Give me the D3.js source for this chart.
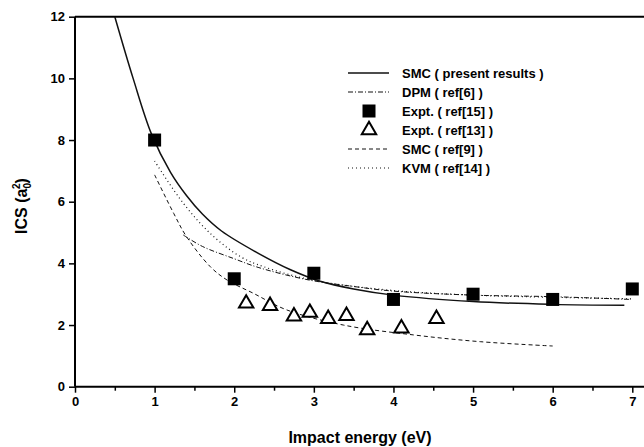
<!DOCTYPE html>
<html>
<head>
<meta charset="utf-8">
<script src="https://cdn.jsdelivr.net/npm/d3@7"></script>
<style>
  body { margin: 0; background: #fff; }
  svg text { font-family: "Liberation Sans", Arial, sans-serif; font-weight: bold; fill: #000; }
</style>
</head>
<body>
<svg id="chart" width="644" height="447"></svg>
<script>
// SMC ( present results )
const smcPresent = [[0.5,12],[0.73,10],[0.96,8.2],[1.2,6.95],[1.4,6.2],[1.6,5.6],[1.84,5.05],[2.32,4.3],[2.7,3.8],[3.08,3.42],[3.5,3.17],[4,2.97],[5,2.76],[6,2.67],[6.9,2.64]];
// DPM ( ref[6] )
const dpm = [[1.36,4.92],[1.6,4.55],[2.0,4.15],[2.3,3.87],[2.9,3.48],[3.5,3.25],[4,3.1],[5,2.97],[6,2.92],[6.98,2.83]];
// SMC ( ref[9] )
const smcRef9 = [[1.0,6.87],[1.24,5.62],[1.4,4.87],[1.7,3.89],[1.91,3.46],[2.24,3.03],[2.66,2.49],[3.37,2.0],[4.25,1.68],[5.09,1.46],[6.0,1.32]];
// KVM ( ref[14] )
const kvm = [[1.0,7.32],[1.36,5.95],[1.72,4.92],[2.09,4.2],[2.36,3.9],[3,3.45],[4,3.12],[5,2.97],[6,2.9],[7,2.85]];
// Expt. ( ref[15] )
const exptRef15 = [[1,8.0],[2,3.5],[3,3.68],[4,2.83],[5,3.0],[6,2.83],[7,3.17]];
// Expt. ( ref[13] )
const exptRef13 = [[2.15,2.7],[2.45,2.62],[2.75,2.28],[2.95,2.4],[3.18,2.2],[3.41,2.3],[3.67,1.84],[4.1,1.89],[4.54,2.2]];

const xTicks = [0,1,2,3,4,5,6,7];
const xMinor = [0.5,1.5,2.5,3.5,4.5,5.5,6.5];
const yTicks = [0,2,4,6,8,10,12];

const legendItems = [
  {label: "SMC ( present results )", type: "line", dash: null, w: 1.5},
  {label: "DPM ( ref[6] )", type: "line", dash: "5,2,1,2", w: 1},
  {label: "Expt. ( ref[15] )", type: "square"},
  {label: "Expt. ( ref[13] )", type: "triangle"},
  {label: "SMC ( ref[9] )", type: "line", dash: "4,3", w: 1},
  {label: "KVM ( ref[14] )", type: "line", dash: "1,3", w: 1.2}
];

const svg = d3.select("#chart");
const x = d3.scaleLinear().domain([0, 7]).range([75, 632.3]);
const y = d3.scaleLinear().domain([0, 12]).range([386.7, 16.7]);

// frame: top line and bottom axis run off the right edge
svg.append("line").attr("x1", 75).attr("x2", 650).attr("y1", y(12)).attr("y2", y(12))
  .attr("stroke", "#000").attr("stroke-width", 2);
svg.append("line").attr("x1", 75).attr("x2", 650).attr("y1", y(0)).attr("y2", y(0))
  .attr("stroke", "#000").attr("stroke-width", 2);
svg.append("line").attr("x1", 75).attr("x2", 75).attr("y1", y(12)).attr("y2", y(0))
  .attr("stroke", "#000").attr("stroke-width", 2);

// x axis
const xAxis = d3.axisBottom(x).tickValues(xTicks).tickSize(6).tickPadding(4).tickFormat(d3.format("d"));
const gx = svg.append("g").attr("transform", `translate(0,${y(0)})`).call(xAxis);
gx.select(".domain").remove();
gx.selectAll(".tick line").attr("stroke-width", 1.5);
gx.selectAll(".tick text").style("font-size", "13px").style("font-family", null);
const gxm = svg.append("g").attr("transform", `translate(0,${y(0)})`)
  .call(d3.axisBottom(x).tickValues(xMinor).tickSize(4).tickFormat(""));
gxm.select(".domain").remove();
gxm.selectAll(".tick line").attr("stroke-width", 1.5);

// y axis
const yAxis = d3.axisLeft(y).tickValues(yTicks).tickSize(6).tickPadding(4).tickFormat(d3.format("d"));
const gy = svg.append("g").attr("transform", `translate(75,0)`).call(yAxis);
gy.select(".domain").remove();
gy.selectAll(".tick line").attr("stroke-width", 1.5);
gy.selectAll(".tick text").style("font-size", "13px").style("font-family", null);

// axis titles
svg.append("text").attr("x", 360).attr("y", 443).attr("text-anchor", "middle")
  .style("font-size", "16px").text("Impact energy (eV)");
const yl = svg.append("text").attr("transform", "translate(27,206) rotate(-90)")
  .attr("text-anchor", "middle").style("font-size", "16px");
yl.append("tspan").text("ICS (a");
yl.append("tspan").attr("dy", 4).style("font-size", "10px").text("0");
yl.append("tspan").attr("dx", -6).attr("dy", -11).style("font-size", "10px").text("2");
yl.append("tspan").attr("dy", 7).text(")");

// curves
const line = d3.line().x(d => x(d[0])).y(d => y(d[1])).curve(d3.curveCatmullRom.alpha(0.5));
const curves = [
  {data: smcPresent, dash: null, w: 1.5},
  {data: dpm, dash: "5,2,1,2", w: 1},
  {data: smcRef9, dash: "4,3", w: 1},
  {data: kvm, dash: "1,3", w: 1.2}
];
svg.append("g").selectAll("path").data(curves).join("path")
  .attr("d", d => line(d.data))
  .attr("fill", "none").attr("stroke", "#111")
  .attr("stroke-width", d => d.w)
  .attr("stroke-dasharray", d => d.dash);

// markers
const sq = 13;
svg.append("g").selectAll("rect").data(exptRef15).join("rect")
  .attr("x", d => x(d[0]) - sq / 2).attr("y", d => y(d[1]) - sq / 2)
  .attr("width", sq).attr("height", sq).attr("fill", "#000");

const tri = d3.symbol().type(d3.symbolTriangle).size(90);
svg.append("g").selectAll("path").data(exptRef13).join("path")
  .attr("transform", d => `translate(${x(d[0])},${y(d[1])})`)
  .attr("d", tri).attr("fill", "#fff").attr("stroke", "#000").attr("stroke-width", 2);

// legend
const lg = svg.append("g").attr("transform", "translate(348,73)");
const rows = lg.selectAll("g").data(legendItems).join("g")
  .attr("transform", (d, i) => `translate(0,${i * 19})`);
rows.filter(d => d.type === "line").append("line")
  .attr("x1", 0).attr("x2", 41).attr("y1", 0).attr("y2", 0)
  .attr("stroke", "#111").attr("stroke-width", d => d.w).attr("stroke-dasharray", d => d.dash);
rows.filter(d => d.type === "square").append("rect")
  .attr("x", 21 - sq / 2).attr("y", -sq / 2).attr("width", sq).attr("height", sq).attr("fill", "#000");
rows.filter(d => d.type === "triangle").append("path")
  .attr("transform", "translate(21,0)").attr("d", tri)
  .attr("fill", "#fff").attr("stroke", "#000").attr("stroke-width", 2);
rows.append("text").attr("x", 54).attr("dy", "0.35em").style("font-size", "13px").text(d => d.label);
</script>
</body>
</html>
